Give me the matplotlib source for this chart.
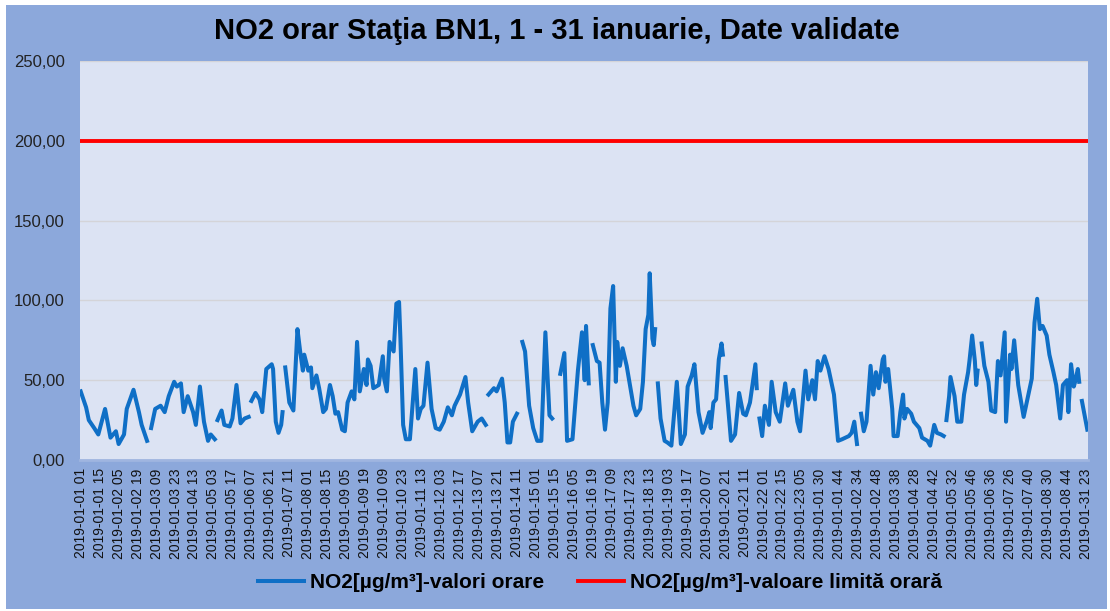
import numpy as np
import matplotlib
matplotlib.use('Agg')
import matplotlib.pyplot as plt
from matplotlib.patches import Rectangle

plt.rcParams['font.family'] = ['Liberation Sans', 'DejaVu Sans']

# hour index since 2019-01-01 01 (None = missing / not validated)
hours = [0, 2, 4, 6, 10, 13, 18, 22, 26, 28, 32, 34, 39, 43, 45, 49, 50,
         52, 55, 59, 62, 65, 69, 71, 74, 76, 79, 83, 85, 88, 91, 94, 96, 99, 100,
         101, 104, 106, 110, 112, 115, 118, 121, 124, 125,
         126, 129, 132, 134, 137, 141, 142, 144, 146, 148, 149, 150,
         151, 154, 157, 160, 162, 164, 165, 168, 170, 171, 174, 176, 179, 181, 184, 186, 188, 190,
         193, 195, 197, 200, 202, 204, 206, 209, 211, 212, 214, 216, 220, 223, 224, 226, 228, 231,
         233, 235, 236, 238, 240, 243, 247, 249, 251, 253, 256, 259, 262, 265, 268, 271, 274, 276,
         280, 284, 286, 289, 293, 296, 299, 300,
         301, 305, 307, 311, 313, 315, 317, 319, 322, 324,
         326, 328, 331, 334, 337, 340, 343, 346, 348, 351,
         354, 357, 359, 363, 367, 370, 372, 373, 375, 376,
         378, 381, 383, 385, 387, 389, 391, 393, 395, 396, 398, 400, 403, 405, 408, 410, 413, 415,
         417, 419, 420, 422, 423, 424, 425,
         426, 428, 431, 433, 436, 440, 443, 446, 448, 451, 453, 456, 459, 462, 464, 465, 467, 469,
         471, 473, 474, 475,
         476, 478, 480, 483, 486, 489, 491, 494, 498, 499, 500,
         501, 503, 505, 508, 510, 513, 516, 520, 522, 526, 529, 531, 535, 537, 540, 542, 544, 546,
         549, 552, 556, 559, 562, 567, 569, 571, 573, 574,
         576, 578, 580, 583, 585, 587, 589, 592, 593, 594, 596, 599, 600, 603, 605, 607, 608, 610,
         613, 615, 619, 621, 625, 627, 630, 632, 635, 637, 638,
         639, 641, 642, 645, 647, 650, 652, 655, 656, 658, 660, 661, 662, 663,
         665, 667, 670, 672, 675, 677, 679, 682, 683, 686, 687, 689, 692, 694, 696, 699, 702, 704,
         706, 708, 710, 713, 715, 718, 720, 723, 725, 728, 729, 731, 733, 734, 736, 737, 738,
         739, 743]

no2 = [43, 38, 33, 25, 20, 16, 32, 14, 18, 10, 16, 32, 44, 30, 22, 12, None,
       20, 32, 34, 30, 40, 49, 46, 48, 30, 40, 30, 22, 46, 24, 12, 16, 13, None,
       25, 31, 22, 21, 26, 47, 23, 26, 27, None,
       37, 42, 38, 30, 57, 60, 57, 24, 17, 22, 30, None,
       58, 36, 31, 82, 68, 56, 66, 56, 58, 45, 53, 45, 30, 32, 47, 40, 29, 30,
       19, 18, 36, 43, 38, 74, 43, 57, 47, 63, 59, 45, 47, 65, 51, 43, 74, 68,
       98, 99, 76, 22, 13, 13, 57, 26, 32, 34, 61, 32, 20, 19, 24, 33, 28, 34,
       41, 52, 36, 18, 24, 26, 22, None,
       41, 45, 43, 51, 36, 11, 11, 24, 29, None,
       74, 68, 34, 20, 12, 12, 80, 28, 26, None,
       54, 67, 12, 13, 56, 80, 50, 84, 48, None,
       72, 62, 61, 36, 19, 36, 95, 109, 49, 74, 59, 70, 59, 49, 34, 28, 32, 49,
       82, 91, 117, 76, 72, 82, None,
       48, 26, 12, 11, 9, 49, 10, 16, 46, 53, 60, 30, 17, 24, 30, 20, 36, 38,
       63, 73, 66, None,
       52, 32, 12, 16, 42, 29, 28, 36, 60, 45, None,
       26, 15, 34, 22, 49, 30, 24, 48, 34, 44, 24, 18, 56, 38, 50, 38, 62, 56,
       65, 57, 41, 12, 13, 15, 17, 24, 10, None,
       29, 18, 24, 59, 41, 55, 45, 63, 65, 49, 57, 32, 15, 15, 30, 41, 26, 32,
       29, 24, 20, 14, 12, 9, 22, 17, 16, 15, None,
       25, 40, 52, 40, 24, 24, 41, 55, 62, 78, 62, 47, 56, None,
       73, 59, 49, 31, 30, 62, 53, 80, 24, 66, 57, 75, 47, 37, 27, 39, 51, 86,
       101, 82, 84, 78, 66, 55, 47, 26, 47, 50, 30, 60, 46, 49, 57, 49, None,
       37, 19]

limit_value = 200

x_labels = ['2019-01-01 01', '2019-01-01 15', '2019-01-02 05', '2019-01-02 19', '2019-01-03 09',
            '2019-01-03 23', '2019-01-04 13', '2019-01-05 03', '2019-01-05 17', '2019-01-06 07',
            '2019-01-06 21', '2019-01-07 11', '2019-01-08 01', '2019-01-08 15', '2019-01-09 05',
            '2019-01-09 19', '2019-01-10 09', '2019-01-10 23', '2019-01-11 13', '2019-01-12 03',
            '2019-01-12 17', '2019-01-13 07', '2019-01-13 21', '2019-01-14 11', '2019-01-15 01',
            '2019-01-15 15', '2019-01-16 05', '2019-01-16 19', '2019-01-17 09', '2019-01-17 23',
            '2019-01-18 13', '2019-01-19 03', '2019-01-19 17', '2019-01-20 07', '2019-01-20 21',
            '2019-01-21 11', '2019-01-22 01', '2019-01-22 15', '2019-01-23 05', '2019-01-01 30',
            '2019-01-01 44', '2019-01-02 34', '2019-01-02 48', '2019-01-03 38', '2019-01-04 28',
            '2019-01-04 42', '2019-01-05 32', '2019-01-05 46', '2019-01-06 36', '2019-01-07 26',
            '2019-01-07 40', '2019-01-08 30', '2019-01-08 44', '2019-01-31 23']
label_step = 14

y_ticks = [0, 50, 100, 150, 200, 250]
y_labels = ['0,00', '50,00', '100,00', '150,00', '200,00', '250,00']

hours_arr = np.array(hours, dtype=float)
no2_arr = np.array([np.nan if v is None else v for v in no2], dtype=float)

fig = plt.figure(figsize=(11.1, 6.11), dpi=100, facecolor='white')
fig.patches.append(Rectangle((0.005, 0.004), 0.992, 0.988, transform=fig.transFigure,
                             facecolor='#8CA8DB', edgecolor='none', zorder=-1))

ax = fig.add_axes([80 / 1110, 1 - 460 / 611, 1008 / 1110, 399 / 611])
ax.set_facecolor('#DCE3F3')

ax.plot(hours_arr, no2_arr, color='#0F6FC6', lw=2.9, solid_joinstyle='round',
        label='NO2[µg/m³]-valori orare')
ax.axhline(limit_value, color='#FF0000', lw=2.8, label='NO2[µg/m³]-valoare limită orară')

ax.set_xlim(-0.5, 743.5)
ax.set_ylim(0, 250)
ax.set_yticks(y_ticks, y_labels, fontsize=12, color='#222222')
ax.set_xticks([i * label_step for i in range(len(x_labels))], x_labels,
              rotation=90, fontsize=10, color='#111111')
ax.tick_params(length=0)
ax.tick_params(axis='y', pad=11)
ax.tick_params(axis='x', pad=6)
ax.yaxis.grid(True, color='#D4D4D8', lw=1)
ax.set_axisbelow(True)
for s in ['top', 'right', 'left']:
    ax.spines[s].set_visible(False)
ax.spines['bottom'].set_color('#9FB5E0')
ax.spines['bottom'].set_linewidth(2)

fig.text(557 / 1110, 1 - 31 / 611, 'NO2 orar Staţia BN1, 1 - 31 ianuarie, Date validate',
         ha='center', va='center', fontsize=21, fontweight='bold')

fig.legend(loc='center', bbox_to_anchor=(600 / 1110, 1 - 583 / 611), ncol=2, frameon=False,
           prop={'weight': 'bold', 'size': 15}, handlelength=2.2, handletextpad=0.3,
           columnspacing=1.6)

fig.savefig('out.png', dpi=100, facecolor=fig.get_facecolor())
